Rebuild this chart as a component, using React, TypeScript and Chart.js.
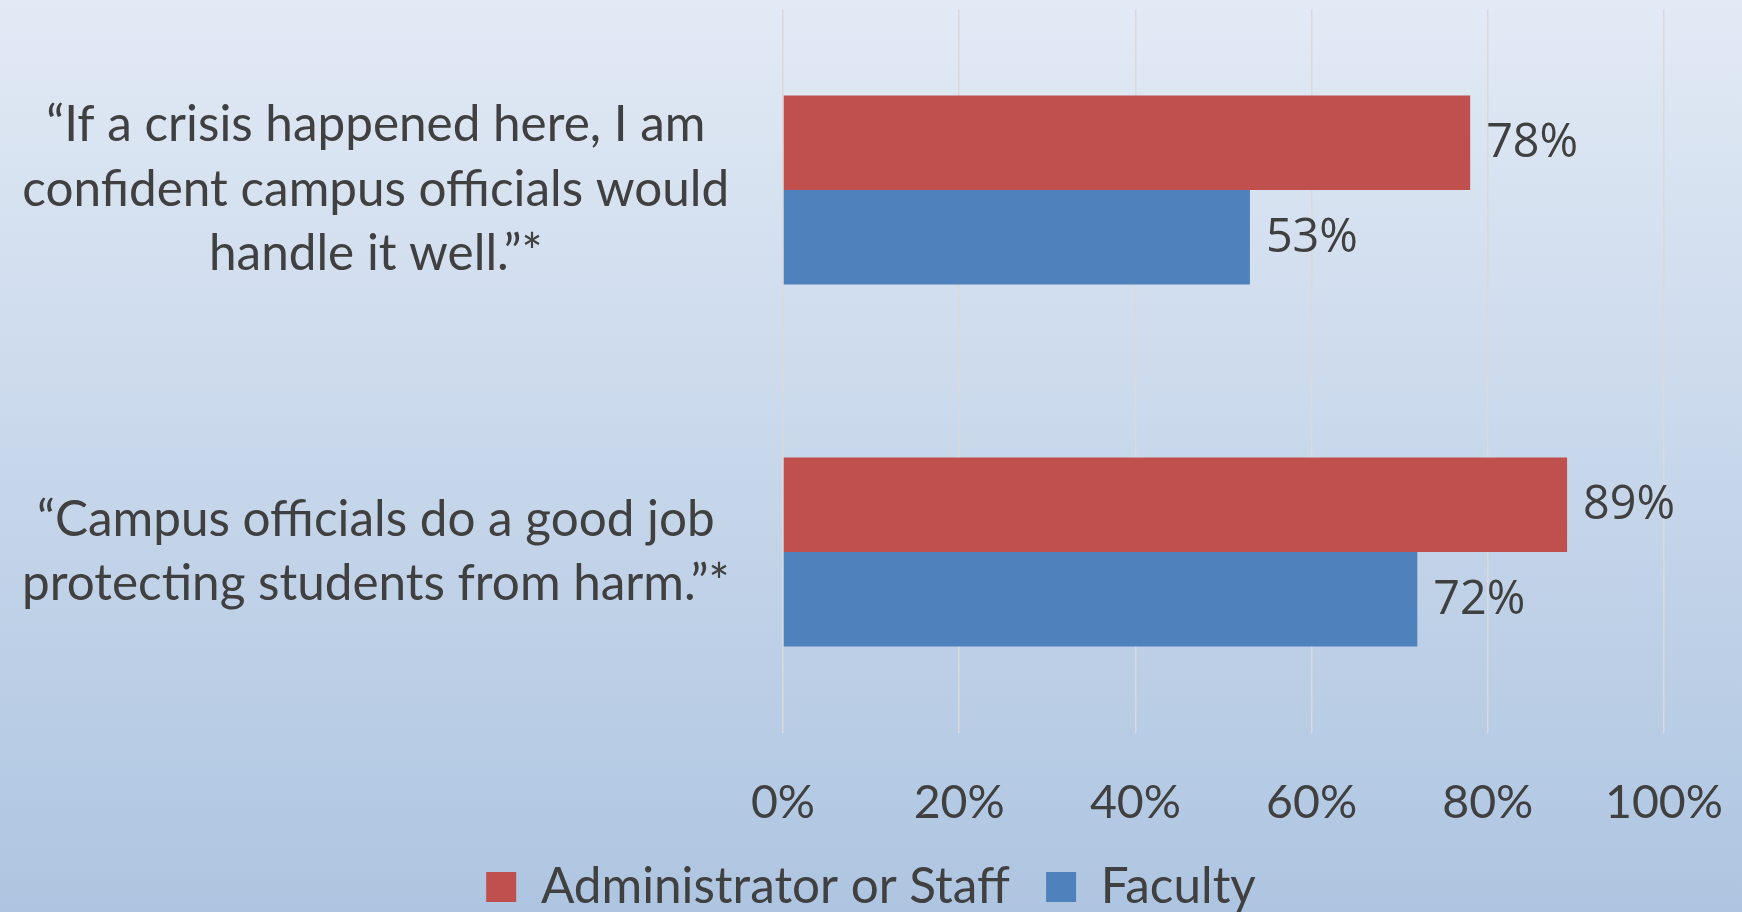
import React, { useEffect, useRef } from 'react';
import { Chart, registerables } from 'chart.js';

Chart.register(...registerables);

// ---- data ----
const categories: string[][] = [
  ['“If a crisis happened here, I am', 'confident campus officials would', 'handle it well.”*'],
  ['“Campus officials do a good job', 'protecting students from harm.”*'],
];
const seriesNames: string[] = ['Administrator or Staff', 'Faculty'];
const adminValues: number[] = [78, 89];
const facultyValues: number[] = [53, 72];
const xTickValues: number[] = [0, 20, 40, 60, 80, 100];
const seriesColors: string[] = ['#C0504D', '#4F81BD'];

// ---- layout constants ----
const W = 1742;
const VIEW_H = 912;
const H = 960;
const TEXT = '#404040';
const BODY_FONT = 'Lato, "Open Sans", sans-serif';
const LABEL_FONT = '"Open Sans", Lato, sans-serif';

function fitSize(text: string, family: string, target: number): number {
  const c = document.createElement('canvas').getContext('2d') as CanvasRenderingContext2D;
  c.font = `100px ${family}`;
  const w = c.measureText(text).width || 100;
  return (100 * target) / w;
}

export default function App() {
  const ref = useRef<HTMLCanvasElement | null>(null);

  useEffect(() => {
    const canvas = ref.current;
    if (!canvas) return;

    const catSize = fitSize('confident campus officials would', BODY_FONT, 707);
    const tickSize = fitSize('100%', BODY_FONT, 118);
    const legendSize = fitSize('Administrator or Staff', BODY_FONT, 469);
    const dataSize = fitSize('78%', LABEL_FONT, 92);

    const areaTop = 9;
    const areaBottom = 733;
    const areaLeft = 783;
    const rightGap = 78;
    const legendTop = 826;
    const legendTextMid = 887;
    const legendPad = Math.max(4, legendTextMid - legendTop - legendSize / 2);
    const legendHeight = legendSize + legendPad + 10;
    const padBottom = Math.max(0, H - (legendTop + legendHeight));
    const xHeight = legendTop - areaBottom;
    const xTickPad = 803 - areaBottom - 0.6 * tickSize;
    const catCenterX = 376;

    const bgPlugin = {
      id: 'bg',
      beforeDraw(chart: any) {
        const { ctx } = chart;
        const g = ctx.createLinearGradient(0, 0, 0, VIEW_H);
        g.addColorStop(0, '#e2eaf5');
        g.addColorStop(1, '#aec5e1');
        ctx.save();
        ctx.fillStyle = g;
        ctx.fillRect(0, 0, chart.width, chart.height);
        ctx.restore();
      },
    };

    const valueLabels = {
      id: 'valueLabels',
      afterDatasetsDraw(chart: any) {
        const { ctx } = chart;
        ctx.save();
        ctx.font = `${dataSize}px ${LABEL_FONT}`;
        ctx.fillStyle = TEXT;
        ctx.textAlign = 'left';
        ctx.textBaseline = 'middle';
        chart.data.datasets.forEach((ds: any, di: number) => {
          const meta = chart.getDatasetMeta(di);
          meta.data.forEach((bar: any, i: number) => {
            ctx.fillText(`${ds.data[i]}%`, bar.x + 16, bar.y + 1);
          });
        });
        ctx.restore();
      },
    };

    const chart = new Chart(canvas, {
      type: 'bar',
      data: {
        labels: categories,
        datasets: [
          {
            label: seriesNames[0],
            data: adminValues,
            backgroundColor: seriesColors[0],
            borderWidth: 0,
            categoryPercentage: 0.522,
            barPercentage: 1,
          },
          {
            label: seriesNames[1],
            data: facultyValues,
            backgroundColor: seriesColors[1],
            borderWidth: 0,
            categoryPercentage: 0.522,
            barPercentage: 1,
          },
        ],
      },
      options: {
        indexAxis: 'y',
        responsive: false,
        animation: false,
        devicePixelRatio: 1,
        layout: {
          padding: { top: areaTop, left: 0, right: 0, bottom: padBottom },
        },
        plugins: {
          tooltip: { enabled: false },
          legend: {
            position: 'bottom',
            align: 'center',
            labels: {
              color: TEXT,
              font: { family: BODY_FONT, size: legendSize },
              boxWidth: 30,
              boxHeight: 30,
              padding: legendPad,
            },
          },
        },
        scales: {
          x: {
            type: 'linear',
            min: 0,
            max: 100,
            afterBuildTicks: (scale: any) => {
              scale.ticks = xTickValues.map((v) => ({ value: v }));
            },
            afterFit: (scale: any) => {
              scale.height = xHeight;
              scale.paddingLeft = 0;
              scale.paddingRight = 0;
            },
            grid: {
              color: '#dadada',
              lineWidth: 1.5,
              drawTicks: false,
            },
            border: { display: false },
            ticks: {
              color: TEXT,
              padding: xTickPad,
              font: { family: BODY_FONT, size: tickSize },
              callback: (v: any) => `${v}%`,
              maxRotation: 0,
            },
          },
          y: {
            type: 'category',
            afterFit: (scale: any) => {
              scale.width = areaLeft;
              scale.paddingTop = 0;
              scale.paddingBottom = 0;
            },
            grid: { display: false, drawTicks: false },
            border: { display: false },
            ticks: {
              color: TEXT,
              crossAlign: 'center',
              padding: areaLeft - catCenterX - 707 / 2,
              autoSkip: false,
              font: { family: BODY_FONT, size: catSize, lineHeight: 64.5 / catSize },
            },
          },
          yRight: {
            type: 'category',
            position: 'right',
            display: true,
            afterFit: (scale: any) => {
              scale.width = rightGap;
              scale.paddingTop = 0;
              scale.paddingBottom = 0;
            },
            grid: { display: false, drawTicks: false },
            border: { display: false },
            ticks: { display: false },
          },
        },
      },
      plugins: [bgPlugin, valueLabels],
    } as any);

    return () => {
      chart.destroy();
    };
  }, []);

  return (
    <div
      style={{
        position: 'fixed',
        left: 0,
        top: 0,
        width: W,
        height: VIEW_H,
        overflow: 'hidden',
        background: '#aec5e1',
      }}
    >
      <canvas ref={ref} width={W} height={H} style={{ display: 'block' }} />
    </div>
  );
}
